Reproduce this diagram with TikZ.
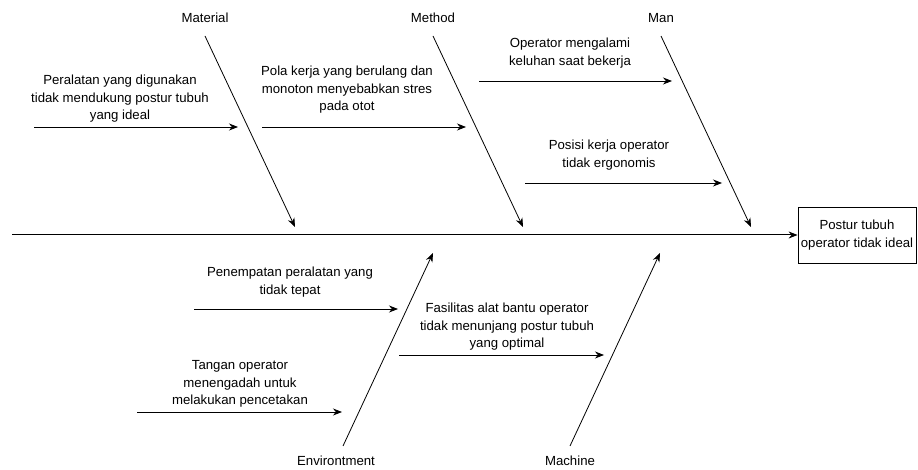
\documentclass[tikz,border=0pt]{standalone}
\usepackage{fontspec}
\setmainfont{Liberation Sans}
\usetikzlibrary{arrows.meta}

\begin{document}
\begin{tikzpicture}[x=1pt,y=-1pt,
    lbl/.style={align=center,font=\fontsize{13.2}{17.5}\selectfont,inner sep=0pt},
    arr/.style={-{Stealth[length=9pt,width=7pt]},line width=0.8pt}]
    \useasboundingbox (0,0) rectangle (918,470);
    % head and spine
    \node[lbl,draw,line width=0.8pt,minimum width=118pt,minimum height=56pt] (effect) at (857,235)
        {Postur tubuh\\operator tidak ideal};
    \coordinate (tail) at (12,235);
    \draw[arr,line width=1pt] (tail) -- (effect.west);
    % upper bones
    \foreach \name/\lab/\x in {material/Material/205, method/Method/433, man/Man/661}{
        \node[lbl] (\name) at (\x,18) {\lab};
        \coordinate (\name-top) at (\x,36);
        \coordinate (\name-end) at (\x+90,227);
        \draw[arr] (\name-top) -- (\name-end);
    }
    % lower bones
    \foreach \name/\lab/\x/\lx in {env/Environtment/343/336, machine/Machine/570/570}{
        \node[lbl] (\name) at (\lx,461) {\lab};
        \coordinate (\name-bot) at (\x,446);
        \coordinate (\name-end) at (\x+90,253);
        \draw[arr] (\name-bot) -- (\name-end);
    }
    % causes
    \foreach \n/\xs/\xe/\y/\tx/\ty/\txt in {
        c1/34/238/127/120/99/{Peralatan yang digunakan\\tidak mendukung postur tubuh\\yang ideal},
        c2/262/466/127/347/90/{Pola kerja yang berulang dan\\monoton menyebabkan stres\\pada otot},
        c3/479/672/81/570/53/{Operator mengalami\\keluhan saat bekerja},
        c4/525/722/183/609/155/{Posisi kerja operator\\tidak ergonomis},
        c5/194/398/309/290/282/{Penempatan peralatan yang\\tidak tepat},
        c6/137/342/412/240/384/{Tangan operator\\menengadah untuk\\melakukan pencetakan},
        c7/399/604/355/507/327/{Fasilitas alat bantu operator\\tidak menunjang postur tubuh\\yang optimal}}{
        \node[lbl] (\n) at (\tx,\ty) {\txt};
        \coordinate (\n-s) at (\xs,\y);
        \coordinate (\n-e) at (\xe,\y);
        \draw[arr] (\n-s) -- (\n-e);
    }
\end{tikzpicture}
\end{document}
